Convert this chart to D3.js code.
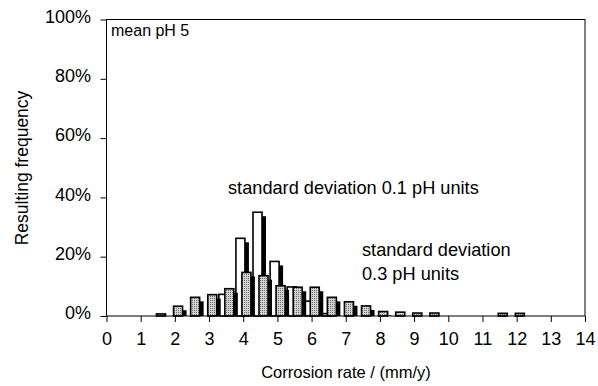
<!DOCTYPE html>
<html>
<head>
<meta charset="utf-8">
<script src="https://cdn.jsdelivr.net/npm/d3@7"></script>
<style>
  body { margin: 0; background: #fff; }
  text { font-family: "Liberation Sans", Arial, sans-serif; fill: #000; }
</style>
</head>
<body>
<svg id="chart"></svg>
<script>
// corrosion rate bins (mm/y)
const bins = [0, 0.5, 1, 1.5, 2, 2.5, 3, 3.5, 4, 4.5, 5, 5.5, 6, 6.5, 7, 7.5, 8, 8.5, 9, 9.5, 10, 10.5, 11, 11.5, 12, 12.5, 13, 13.5, 14];
// resulting frequency in %, std dev 0.1 pH units
const sd01 = [0, 0, 0, 0, 0, 0, 0, 7.3, 26.2, 35.0, 18.4, 9.8, 5.0, 0.8, 0, 0, 0, 0, 0, 0, 0, 0, 0, 0, 0, 0, 0, 0, 0];
// resulting frequency in %, std dev 0.3 pH units
const sd03 = [0, 0, 0, 0.7, 3.3, 6.3, 7.2, 9.2, 14.7, 13.6, 10.2, 9.7, 9.7, 6.3, 4.8, 3.4, 1.5, 1.3, 1.0, 1.0, 0, 0, 0, 0.9, 0.9, 0, 0, 0, 0];
const xTicks = [0, 1, 2, 3, 4, 5, 6, 7, 8, 9, 10, 11, 12, 13, 14];
const yTicks = [0, 20, 40, 60, 80, 100];

const width = 598, height = 386;
const svg = d3.select('#chart').attr('width', width).attr('height', height);

const x = d3.scaleLinear().domain([0, 14]).range([106.5, 585]);
const y = d3.scaleLinear().domain([0, 100]).range([316, 19.5]);

// stipple fill for the 0.3 series
const defs = svg.append('defs');
const pat = defs.append('pattern')
  .attr('id', 'dots')
  .attr('width', 2).attr('height', 2)
  .attr('patternUnits', 'userSpaceOnUse');
pat.append('rect').attr('width', 2).attr('height', 2).attr('fill', '#d2d2d2');
pat.append('rect').attr('width', 1).attr('height', 1).attr('fill', '#707070');

const barW = 9, shadow = 4;

const drawSeries = (vals, offset, fill) => {
  const data = bins.map((b, i) => ({ b, v: vals[i] })).filter(d => d.v > 0);
  const g = svg.append('g');
  // drop shadow
  g.selectAll('rect.sh')
    .data(data)
    .join('rect')
    .attr('class', 'sh')
    .attr('x', d => x(d.b) + offset + shadow)
    .attr('y', d => Math.min(y(d.v) + shadow, y(0)))
    .attr('width', barW)
    .attr('height', d => Math.max(0, y(0) - y(d.v) - shadow))
    .attr('fill', '#000');
  g.selectAll('rect.bar')
    .data(data)
    .join('rect')
    .attr('class', 'bar')
    .attr('x', d => x(d.b) + offset)
    .attr('y', d => y(d.v))
    .attr('width', barW)
    .attr('height', d => y(0) - y(d.v))
    .attr('fill', fill)
    .attr('stroke', '#000')
    .attr('stroke-width', 1.6);
};

drawSeries(sd01, -7.3, '#fff');
drawSeries(sd03, -1.3, 'url(#dots)');

// frame
svg.append('rect')
  .attr('x', x(0)).attr('y', y(100))
  .attr('width', x(14) - x(0)).attr('height', y(0) - y(100))
  .attr('fill', 'none').attr('stroke', '#000').attr('stroke-width', 1);

// x axis
const xAxis = svg.append('g')
  .attr('transform', `translate(0,${y(0)})`)
  .call(d3.axisBottom(x).tickValues(xTicks).tickFormat(d3.format('d')).tickSize(6).tickPadding(10));
xAxis.select('.domain').remove();
xAxis.selectAll('text').style('font-size', '18px').attr('fill', '#000');

// y axis
const yAxis = svg.append('g')
  .attr('transform', `translate(${x(0)},0)`)
  .call(d3.axisLeft(y).tickValues(yTicks).tickFormat(d => d + '%').tickSize(6).tickPadding(9.5));
yAxis.select('.domain').remove();
yAxis.selectAll('text').style('font-size', '18px').attr('fill', '#000').attr('dy', '0.15em');

// titles
svg.append('text')
  .attr('x', 346).attr('y', 378)
  .attr('text-anchor', 'middle')
  .style('font-size', '16.5px')
  .text('Corrosion rate / (mm/y)');

svg.append('text')
  .attr('transform', 'translate(28,168) rotate(-90)')
  .attr('text-anchor', 'middle')
  .style('font-size', '17.5px')
  .text('Resulting frequency');

// annotations
svg.append('text')
  .attr('x', 111).attr('y', 36)
  .style('font-size', '16px')
  .text('mean pH 5');

svg.append('text')
  .attr('x', 228).attr('y', 194)
  .style('font-size', '18.2px')
  .text('standard deviation 0.1 pH units');

svg.append('text')
  .attr('x', 362).attr('y', 256)
  .style('font-size', '18.2px')
  .text('standard deviation');

svg.append('text')
  .attr('x', 362).attr('y', 280)
  .style('font-size', '18.2px')
  .text('0.3 pH units');
</script>
</body>
</html>
